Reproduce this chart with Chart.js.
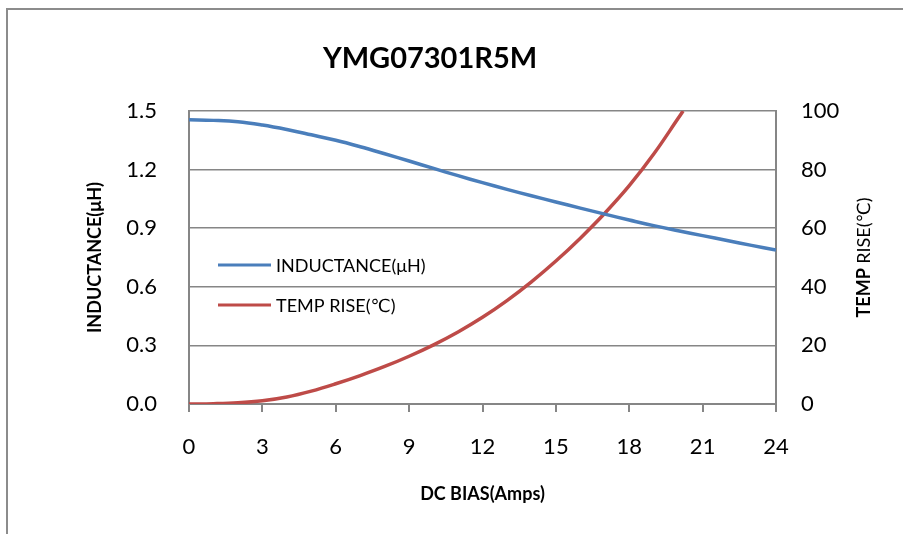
<!DOCTYPE html>
<html>
  <head>
    <title>YMG07301R5M</title>
    <meta charset="utf-8">
    <script src="https://cdn.jsdelivr.net/npm/chart.js@4.4.1/dist/chart.umd.min.js"></script>
    <style>
      body {
        margin: 0;
        background: white;
      }
      #frame {
        position: absolute;
        left: 6px;
        top: 8px;
        width: 910px;
        height: 540px;
        border-top: 2px solid #8c8c8c;
        border-left: 2px solid #8c8c8c;
      }
      #myChart {
        position: absolute;
        left: 0;
        top: 0;
      }
    </style>
  </head>
  <body>
    <div id="frame"></div>
    <canvas id="myChart" width="903" height="534"></canvas>

    <script>
      var chartTitle = 'YMG07301R5M';

      // DC bias (A) and inductance (uH)
      var biasAmps = [0, 1, 2, 3, 4, 5, 6, 7, 8, 9, 10, 11, 12, 13, 14, 15, 16, 17, 18, 19, 20, 21, 22, 23, 24];
      var inductance = [1.455, 1.452, 1.445, 1.428, 1.405, 1.378, 1.350, 1.317, 1.281, 1.244, 1.206, 1.169, 1.133,
                        1.099, 1.066, 1.034, 1.003, 0.972, 0.942, 0.913, 0.887, 0.862, 0.837, 0.812, 0.788];

      // temp rise curve leaves the plot at 100 C
      var tempAmps = [0, 1, 2, 3, 4, 5, 6, 7, 8, 9, 10, 11, 12, 13, 14, 15, 16, 17, 18, 19, 20, 20.2];
      var tempRise = [0, 0.1, 0.4, 1.1, 2.4, 4.4, 6.9, 9.7, 12.8, 16.3, 20.2, 24.6, 29.6, 35.3, 41.7, 48.8, 56.6, 65.1, 74.5, 85.3, 97.5, 100];

      var xTicks = [0, 3, 6, 9, 12, 15, 18, 21, 24];
      var leftTicks = [0, 0.3, 0.6, 0.9, 1.2, 1.5];
      var rightTicks = [0, 20, 40, 60, 80, 100];

      var blue = '#4a7ebb';
      var red = '#be4b48';
      var gray = '#868686';
      var fontName = "Lato, 'DejaVu Sans', sans-serif";

      function pairs(xs, ys) {
        var out = [];
        for (var i = 0; i < xs.length; i++) {
          out.push({x: xs[i], y: ys[i]});
        }
        return out;
      }

      // title, legend and right axis title drawn the Excel way
      var excelBits = {
        id: 'excelBits',
        afterDraw: function(chart) {
          var ctx = chart.ctx;
          var area = chart.chartArea;
          ctx.save();

          ctx.fillStyle = '#000';
          ctx.textAlign = 'center';
          ctx.textBaseline = 'middle';
          ctx.font = 'bold 29px ' + fontName;
          ctx.fillText(chartTitle, 430, 59);

          var sets = chart.data.datasets;
          ctx.font = '18px ' + fontName;
          ctx.textAlign = 'left';
          for (var i = 0; i < sets.length; i++) {
            var ly = 265 + i * 40;
            ctx.strokeStyle = sets[i].borderColor;
            ctx.lineWidth = 3;
            ctx.beginPath();
            ctx.moveTo(area.left + 29, ly);
            ctx.lineTo(area.left + 82, ly);
            ctx.stroke();
            ctx.fillText(sets[i].label, area.left + 87, ly + 1);
          }

          // right axis title: bold TEMP, plain RISE
          ctx.translate(864, (area.top + area.bottom) / 2);
          ctx.rotate(-Math.PI / 2);
          var p1 = 'TEMP ';
          var p2 = 'RISE(\u2103)';
          ctx.font = 'bold 18px ' + fontName;
          var w1 = ctx.measureText(p1).width;
          ctx.font = '18px ' + fontName;
          var w2 = ctx.measureText(p2).width;
          var sx = -(w1 + w2) / 2;
          ctx.font = 'bold 18px ' + fontName;
          ctx.fillText(p1, sx, 0);
          ctx.font = '18px ' + fontName;
          ctx.fillText(p2, sx + w1, 0);
          ctx.restore();
        }
      };

      Chart.defaults.color = '#000';
      Chart.defaults.font.family = fontName;

      var ctx = document.getElementById('myChart').getContext('2d');
      var myChart = new Chart(ctx, {
        type: 'line',
        data: {
          datasets: [{
            label: 'INDUCTANCE(\u03bcH)',
            data: pairs(biasAmps, inductance),
            borderColor: blue,
            borderWidth: 3.5,
            pointRadius: 0,
            tension: 0.4,
            yAxisID: 'y'
          }, {
            label: 'TEMP RISE(\u2103)',
            data: pairs(tempAmps, tempRise),
            borderColor: red,
            borderWidth: 3.5,
            pointRadius: 0,
            tension: 0.4,
            yAxisID: 'y2'
          }]
        },
        options: {
          responsive: false,
          animation: false,
          layout: {padding: {top: 111}},
          plugins: {
            legend: {display: false},
            title: {display: false},
            tooltip: {enabled: false}
          },
          scales: {
            x: {
              type: 'linear',
              min: 0,
              max: 24,
              afterBuildTicks: function(scale) {
                scale.ticks = xTicks.map(function(v) { return {value: v}; });
              },
              afterFit: function(scale) { scale.height = 130; },
              ticks: {font: {size: 22}, padding: 22, maxRotation: 0},
              grid: {display: true, drawOnChartArea: false, drawTicks: true, tickLength: 8, color: gray, lineWidth: 2},
              border: {display: true, color: gray, width: 2},
              title: {
                display: true,
                text: 'DC BIAS(Amps)',
                font: {size: 18, weight: 'bold'},
                padding: {top: 0, bottom: 29}
              }
            },
            y: {
              position: 'left',
              min: 0,
              max: 1.5,
              afterBuildTicks: function(scale) {
                scale.ticks = leftTicks.map(function(v) { return {value: v}; });
              },
              afterFit: function(scale) { scale.width = 189; },
              ticks: {
                font: {size: 22},
                padding: 32,
                callback: function(v) { return v.toFixed(1); }
              },
              grid: {color: gray, lineWidth: 1.5, drawTicks: false},
              border: {display: true, color: gray, width: 2},
              title: {
                display: true,
                text: 'INDUCTANCE(\u03bcH)',
                font: {size: 18, weight: 'bold'},
                padding: {top: 84, bottom: 0}
              }
            },
            y2: {
              position: 'right',
              min: 0,
              max: 100,
              afterBuildTicks: function(scale) {
                scale.ticks = rightTicks.map(function(v) { return {value: v}; });
              },
              afterFit: function(scale) { scale.width = 127; },
              ticks: {font: {size: 22}, padding: 25},
              grid: {display: false, drawTicks: false},
              border: {display: true, color: gray, width: 2}
            }
          }
        },
        plugins: [excelBits]
      });
    </script>
  </body>
</html>
